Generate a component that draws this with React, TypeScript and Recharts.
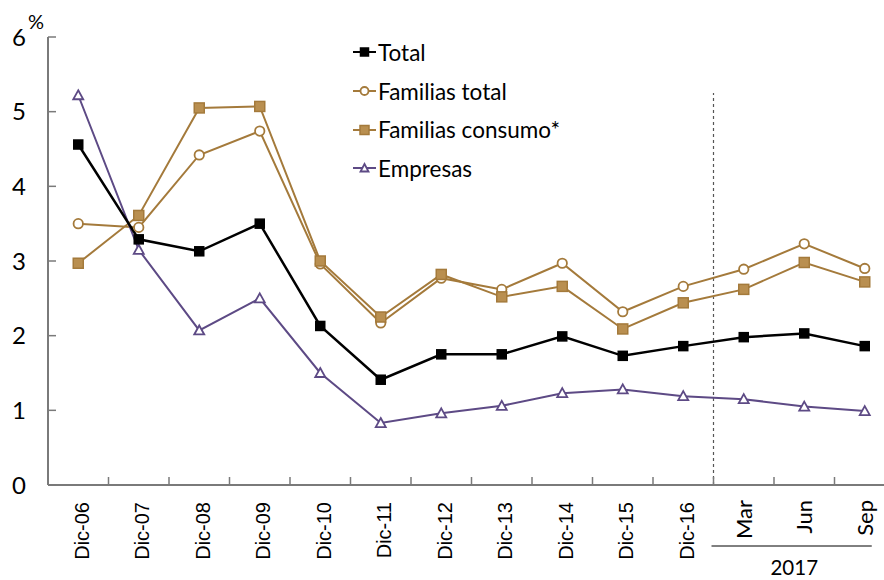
import React from 'react';
import { ComposedChart, Line, XAxis, YAxis, ReferenceLine, Legend } from 'recharts';

// tasas de morosidad, %
const categories = ['Dic-06', 'Dic-07', 'Dic-08', 'Dic-09', 'Dic-10', 'Dic-11', 'Dic-12', 'Dic-13', 'Dic-14', 'Dic-15', 'Dic-16', 'Mar', 'Jun', 'Sep'];
const total = [4.56, 3.29, 3.13, 3.5, 2.13, 1.41, 1.75, 1.75, 1.99, 1.73, 1.86, 1.98, 2.03, 1.86];
const familiasTotal = [3.5, 3.45, 4.42, 4.74, 2.96, 2.17, 2.77, 2.62, 2.97, 2.32, 2.66, 2.89, 3.23, 2.9];
const familiasConsumo = [2.97, 3.61, 5.05, 5.07, 3.0, 2.25, 2.82, 2.52, 2.66, 2.09, 2.44, 2.62, 2.98, 2.72];
const empresas = [5.22, 3.15, 2.07, 2.5, 1.5, 0.83, 0.96, 1.06, 1.23, 1.28, 1.19, 1.15, 1.05, 0.99];
const yTicks = [0, 1, 2, 3, 4, 5, 6];
const yearLabel = '2017';
// dashed separator goes on the right edge of the last December
const splitAfter = 'Dic-16';

const data = categories.map((cat, i) => ({
  cat,
  total: total[i],
  familiasTotal: familiasTotal[i],
  familiasConsumo: familiasConsumo[i],
  empresas: empresas[i],
}));

const W = 900;
const H = 580;
const LEFT = 48;
const RIGHT = 5;
const BAND = (W - LEFT - RIGHT) / categories.length;

const BROWN = '#a47a3b';
const BROWN_FILL = '#b98f50';
const PURPLE = '#5d4a85';
const AXIS = '#7a7a7a';
const FONT = 'Lato, "Open Sans", sans-serif';

const SquareDot = ({ cx, cy, size, fill, stroke }: any) =>
  cx == null ? null : (
    <rect x={cx - size / 2} y={cy - size / 2} width={size} height={size} fill={fill} stroke={stroke} strokeWidth={1.5} />
  );

const TriangleDot = ({ cx, cy }: any) =>
  cx == null ? null : (
    <path d={`M${cx},${cy - 5} L${cx + 5},${cy + 4} L${cx - 5},${cy + 4} Z`} fill="#fff" stroke={PURPLE} strokeWidth={1.8} />
  );

const CircleDot = ({ cx, cy }: any) =>
  cx == null ? null : <circle cx={cx} cy={cy} r={4.7} fill="#fff" stroke={BROWN} strokeWidth={1.8} />;

// shift the reference line from the category centre to its right boundary
const BoundaryLine = (props: any) => {
  const { x1, y1, x2, y2 } = props;
  if (x1 == null) return null;
  return (
    <line
      x1={x1 + BAND / 2}
      x2={x2 + BAND / 2}
      y1={y1}
      y2={y2}
      stroke="#555"
      strokeWidth={1.2}
      strokeDasharray="3 3"
    />
  );
};

const XTick = (props: any) => {
  const { x, y, payload, index } = props;
  const isMonth = index >= 11;
  return (
    <g>
      <line x1={x + BAND / 2} x2={x + BAND / 2} y1={y} y2={y - 8} stroke={AXIS} strokeWidth={1.5} />
      {isMonth ? (
        <text
          transform={`translate(${x + 8},${y + 15}) rotate(-90)`}
          textAnchor="end"
          fontFamily={FONT}
          fontSize={22}
          fill="#000"
        >
          {payload.value}
        </text>
      ) : (
        <text
          transform={`translate(${x + 10.5},${y + 17}) rotate(-90)`}
          textAnchor="end"
          fontFamily='"Liberation Sans", Arial, sans-serif'
          fontSize={20}
          fill="#000"
        >
          {payload.value}
        </text>
      )}
      {payload.value === 'Mar' && (
        <line x1={x - BAND / 2 - 2} x2={x + 2 * BAND + 7} y1={y + 61} y2={y + 61} stroke="#000" strokeWidth={1} />
      )}
      {payload.value === 'Jun' && (
        <text x={x - 10} y={y + 90} textAnchor="middle" fontFamily={FONT} fontSize={20.5} fill="#000">
          {yearLabel}
        </text>
      )}
    </g>
  );
};

const YTick = (props: any) => {
  const { x, y, payload } = props;
  return (
    <g>
      <line x1={x} x2={x + 8} y1={y} y2={y} stroke={AXIS} strokeWidth={1.5} />
      <text x={x - 22} y={y + 8.5} textAnchor="end" fontFamily={FONT} fontSize={24} fill="#000">
        {payload.value}
      </text>
      {payload.value === 6 && (
        <text x={x - 20} y={y - 8} fontFamily={FONT} fontSize={20} fill="#000">
          %
        </text>
      )}
    </g>
  );
};

const legendItems = [
  { name: 'Total', color: '#000', marker: 'square' },
  { name: 'Familias total', color: BROWN, marker: 'circle' },
  { name: 'Familias consumo*', color: BROWN, marker: 'bigsquare' },
  { name: 'Empresas', color: PURPLE, marker: 'triangle' },
];

const renderLegend = () => (
  <div style={{ fontFamily: FONT, fontSize: 22.5, color: '#000' }}>
    {legendItems.map((item) => (
      <div key={item.name} style={{ display: 'flex', alignItems: 'center', height: 38.7 }}>
        <svg width={25} height={16} style={{ marginRight: 1 }}>
          <line x1={1} x2={24} y1={8} y2={8} stroke={item.color} strokeWidth={2} />
          {item.marker === 'square' && <SquareDot cx={12.5} cy={8} size={8} fill="#000" stroke="#000" />}
          {item.marker === 'circle' && <circle cx={12.5} cy={8} r={4} fill="#fff" stroke={BROWN} strokeWidth={1.8} />}
          {item.marker === 'bigsquare' && <SquareDot cx={12.5} cy={8} size={9} fill={BROWN_FILL} stroke={BROWN} />}
          {item.marker === 'triangle' && (
            <path d="M12.5,4 L16.5,11.5 L8.5,11.5 Z" fill="#fff" stroke={PURPLE} strokeWidth={1.8} />
          )}
        </svg>
        <span>{item.name}</span>
      </div>
    ))}
  </div>
);

export default function App() {
  return (
    <div style={{ position: 'absolute', left: 0, top: 0, width: 884, height: 580, overflow: 'hidden', background: '#fff' }}>
      <ComposedChart width={W} height={H} data={data} margin={{ top: 37, right: RIGHT, left: 0, bottom: 0 }}>
        <XAxis
          dataKey="cat"
          height={95}
          interval={0}
          padding={{ left: BAND / 2, right: BAND / 2 }}
          tickSize={0}
          tickMargin={0}
          tickLine={false}
          axisLine={{ stroke: AXIS, strokeWidth: 2 }}
          tick={<XTick />}
        />
        <YAxis
          width={LEFT}
          domain={[0, 6]}
          ticks={yTicks}
          interval={0}
          tickSize={0}
          tickMargin={0}
          tickLine={false}
          axisLine={{ stroke: AXIS, strokeWidth: 2 }}
          tick={<YTick />}
        />
        <ReferenceLine
          segment={[
            { x: splitAfter, y: 0 },
            { x: splitAfter, y: 5.25 },
          ]}
          shape={<BoundaryLine />}
          ifOverflow="visible"
        />
        <Legend
          layout="vertical"
          align="center"
          verticalAlign="middle"
          content={renderLegend}
          wrapperStyle={{ left: 352, top: 33, width: 260 }}
        />
        <Line
          dataKey="familiasTotal"
          name="Familias total"
          stroke={BROWN}
          strokeWidth={2}
          dot={<CircleDot />}
          isAnimationActive={false}
        />
        <Line
          dataKey="familiasConsumo"
          name="Familias consumo*"
          stroke={BROWN}
          strokeWidth={2}
          dot={<SquareDot size={10} fill={BROWN_FILL} stroke={BROWN} />}
          isAnimationActive={false}
        />
        <Line
          dataKey="empresas"
          name="Empresas"
          stroke={PURPLE}
          strokeWidth={2}
          dot={<TriangleDot />}
          isAnimationActive={false}
        />
        <Line
          dataKey="total"
          name="Total"
          stroke="#000"
          strokeWidth={2.5}
          dot={<SquareDot size={9} fill="#000" stroke="#000" />}
          isAnimationActive={false}
        />
      </ComposedChart>
    </div>
  );
}
